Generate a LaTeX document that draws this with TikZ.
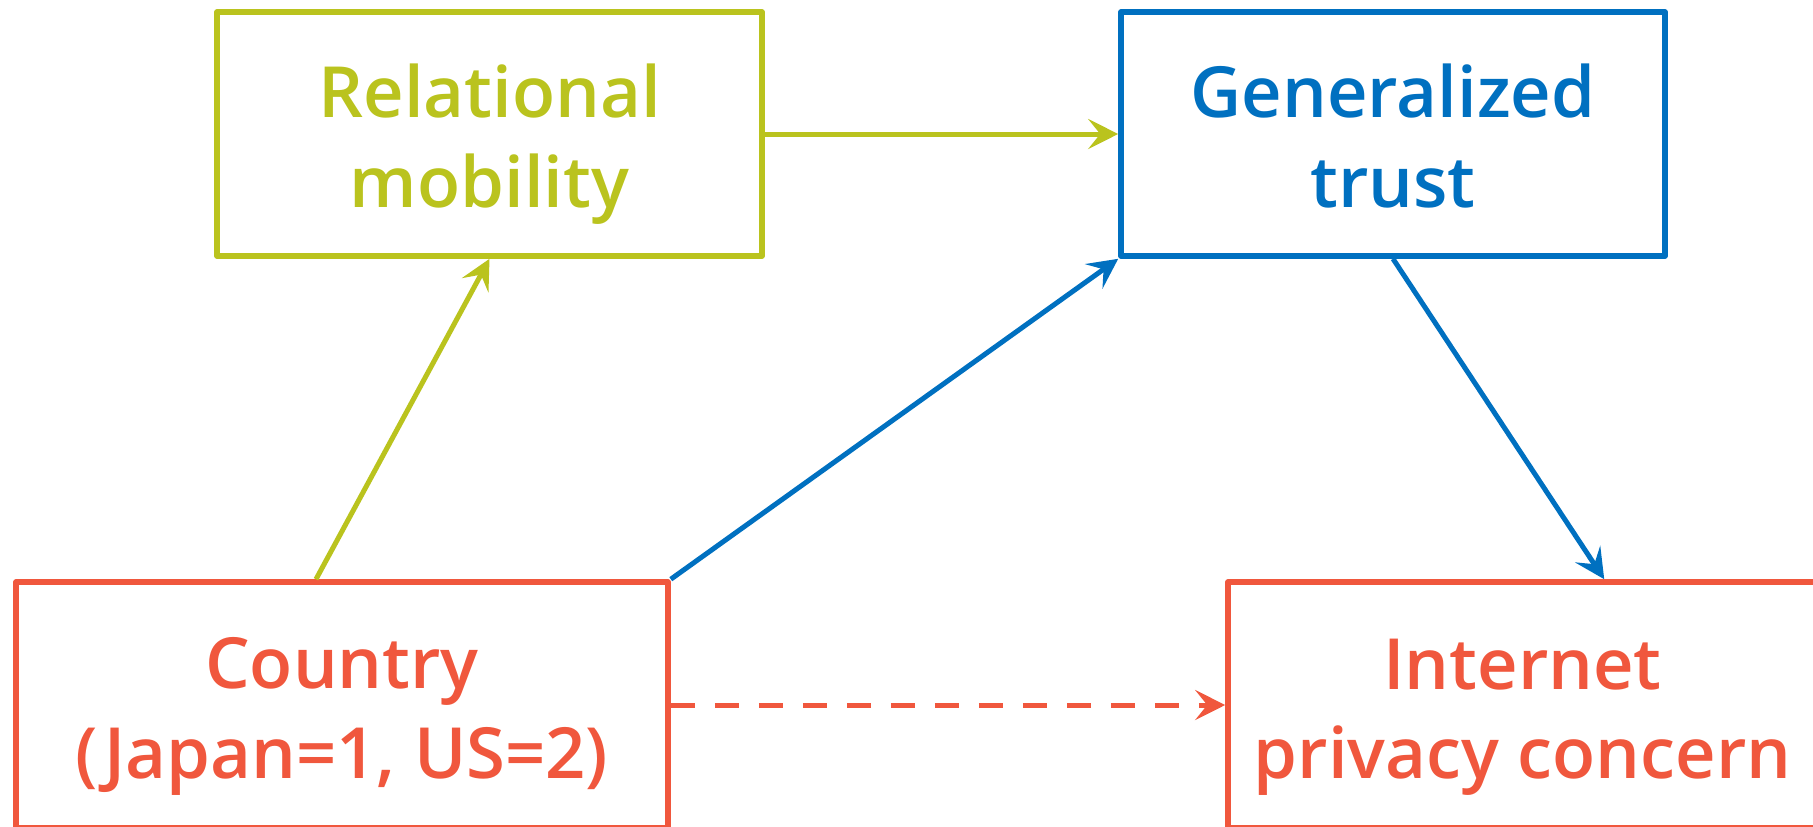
\documentclass[tikz,border=0pt]{standalone}
\usepackage{fontspec}
\setmainfont{Open Sans}
\IfFontExistsTF{Open Sans Semibold}{%
  \newfontfamily\lblfont{Open Sans Semibold}}{%
  \IfFontExistsTF{Open Sans SemiBold}{%
    \newfontfamily\lblfont{Open Sans SemiBold}}{%
    \newfontfamily\lblfont{Open Sans}[FakeBold=3]}}
\usetikzlibrary{arrows.meta,calc}
\definecolor{cgreen}{RGB}{186,195,30}
\definecolor{cblue}{RGB}{0,112,192}
\definecolor{cred}{RGB}{240,87,61}
\tikzset{
  box/.style={draw, rectangle, line width=2.8pt, line join=round, inner sep=0pt},
  lbl/.style={anchor=base, inner sep=0pt, font=\lblfont\fontsize{35.3pt}{42pt}\selectfont},
  conn/.style={line width=2.5pt, -{Stealth[length=15pt,width=15pt,inset=6pt]}},
}
\begin{document}
\begin{tikzpicture}[x=0.5pt,y=-0.5pt]
\useasboundingbox (0,0) rectangle (1813,826);
\clip (0,0) rectangle (1813,826);
% boxes
\node[box, cgreen, minimum width=272.5pt, minimum height=122pt] (rel) at (489.5,134) {};
\node[box, cblue, minimum width=272pt, minimum height=122pt] (gen) at (1393,134) {};
\node[box, cred, minimum width=326pt, minimum height=123pt] (country) at (342,705) {};
\node[box, cred, minimum width=294.5pt, minimum height=123pt] (inet) at (1522.5,705) {};
% labels
\node[lbl, text=cgreen] (rel1) at (489.5,117) {Relational};
\node[lbl, text=cgreen] (rel2) at (489.5,207) {mobility};
\node[lbl, text=cblue] (gen1) at (1393,117) {Generalized};
\node[lbl, text=cblue] (gen2) at (1393,207) {trust};
\node[lbl, text=cred] (co1) at (342,688) {Country};
\node[lbl, text=cred] (co2) at (342,778) {(Japan=1, US=2)};
\node[lbl, text=cred] (in1) at (1522.5,689) {Internet};
\node[lbl, text=cred] (in2) at (1522.5,778) {privacy concern};
% connectors
\draw[conn, cgreen] (rel.east) -- (gen.west);
\draw[conn, cgreen] ($(country.north)+(-26,0)$) -- (rel.south);
\draw[conn, cblue] (country.north east) -- (gen.south west);
\draw[conn, cblue] (gen.south) -- ($(inet.north west)+(379,0)$);
\draw[conn, cred, dash pattern=on 12pt off 10pt] (country.east) -- (inet.west);
\end{tikzpicture}
\end{document}
